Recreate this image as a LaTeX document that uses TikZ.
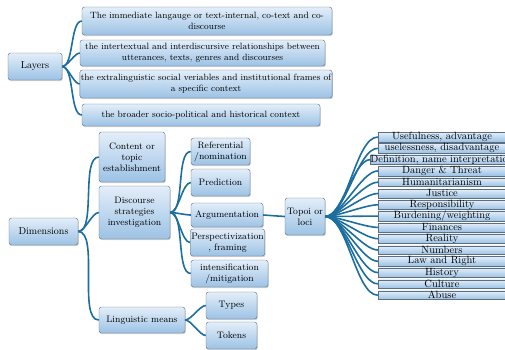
\documentclass[tikz,border=0pt]{standalone}
\usepackage{xcolor}
\usepackage{tikz}
\definecolor{boxtop}{HTML}{E3EEF9}
\definecolor{boxbot}{HTML}{9CC2E5}
\definecolor{boxline}{HTML}{5C6F82}
\definecolor{linkblue}{HTML}{1C6E9E}
\usetikzlibrary{shadows}

\begin{document}
\begin{tikzpicture}[x=1pt,y=-1pt,
  box/.style={rectangle,draw=boxline,rounded corners=2.5pt,top color=boxtop,
              bottom color=boxbot,align=center,inner sep=1pt,
              font=\fontsize{9.4}{10.8}\selectfont,
              drop shadow={shadow xshift=0.8pt,shadow yshift=-1.2pt,opacity=0.35}},
  wide/.style={box,font=\fontsize{9.1}{10.8}\selectfont},
  bar/.style={rectangle,draw=boxline,line width=0.3pt,top color=boxtop,
              bottom color=boxbot,minimum width=128pt,minimum height=8.5pt,
              inner sep=0pt,font=\fontsize{10.5}{10}\selectfont,
              drop shadow={shadow xshift=0.6pt,shadow yshift=-1pt,opacity=0.35}},
  con/.style={color=linkblue,line width=1.6pt},
  lnk/.style={con,out=0,in=180,looseness=0.6}]
  \clip (0,0) rectangle (505,349);
  % layers
  \node[box,minimum width=54pt,minimum height=27pt,font=\fontsize{10}{11}\selectfont] (lay) at (35,66.5){Layers};
  \node[wide,minimum width=250pt,minimum height=28pt] (l1) at (207,21)
    {The immediate langauge or text-internal, co-text and co-\\discourse};
  \node[wide,minimum width=245pt,minimum height=26pt] (l2) at (202.5,53)
    {the intertextual and interdiscursive relationships between\\utterances, texts, genres and discourses};
  \node[wide,minimum width=252pt,minimum height=28pt] (l3) at (206,84)
    {the extralinguistic social veriables and institutional frames of\\a specific context};
  \node[wide,minimum width=238pt,minimum height=22pt] (l4) at (201,115)
    {the broader socio-political and historical context};
  \foreach \i in {1,...,4}{\draw[lnk](lay.east) to (l\i.west);}
  % dimensions
  \node[box,minimum width=69pt,minimum height=27pt,font=\fontsize{10}{11}\selectfont] (dim) at (43.5,231.5){Dimensions};
  \node[box,minimum width=66pt,minimum height=50pt] (cont) at (132,157)
    {Content or\\topic\\establishment};
  \node[box,minimum width=71pt,minimum height=53pt] (disc) at (134.5,212.5)
    {Discourse\\strategies\\investigation};
  \node[box,minimum width=86pt,minimum height=26pt] (ling) at (142,320){Linguistic means};
  \node[box,minimum width=59pt,minimum height=27pt] (ref) at (220.5,151.5)
    {Referential\\/nomination};
  \node[box,minimum width=59pt,minimum height=27pt] (pred) at (220.5,182.5){Prediction};
  \node[box,minimum width=72pt,minimum height=24pt] (arg) at (227,215){Argumentation};
  \node[box,minimum width=73pt,minimum height=27pt] (persp) at (227.5,242.5)
    {Perspectivization\\, framing};
  \node[box,minimum width=77pt,minimum height=27pt] (inten) at (229.5,273.5)
    {intensification\\/mitigation};
  \node[box,minimum width=51pt,minimum height=27pt] (typ) at (231.5,305.5){Types};
  \node[box,minimum width=51pt,minimum height=27pt] (tok) at (231.5,335.5){Tokens};
  \node[box,minimum width=40pt,minimum height=37pt] (topoi) at (305,216.5){Topoi or\\loci};
  \foreach \n in {cont,disc,ling}{\draw[lnk](dim.east) to (\n.west);}
  \foreach \n in {ref,pred,arg,persp,inten}{\draw[lnk](disc.east) to (\n.west);}
  \foreach \n in {typ,tok}{\draw[lnk](ling.east) to (\n.west);}
  \draw[con](arg.east)--(topoi.west);
  % topoi list
  \foreach \t [count=\i] in {Usefulness{,} advantage,uselessness{,} disadvantage,
      Definition{,} name interpretation,Danger \& Threat,Humanitarianism,Justice,
      Responsibility,Burdening/weighting,Finances,Reality,Numbers,Law and Right,
      History,Culture,Abuse}{
    \node[bar] (t\i) at (442,{137+11.3*(\i-1)}){\t};
    \draw[lnk](topoi.east) to (t\i.west);}
\end{tikzpicture}
\end{document}
